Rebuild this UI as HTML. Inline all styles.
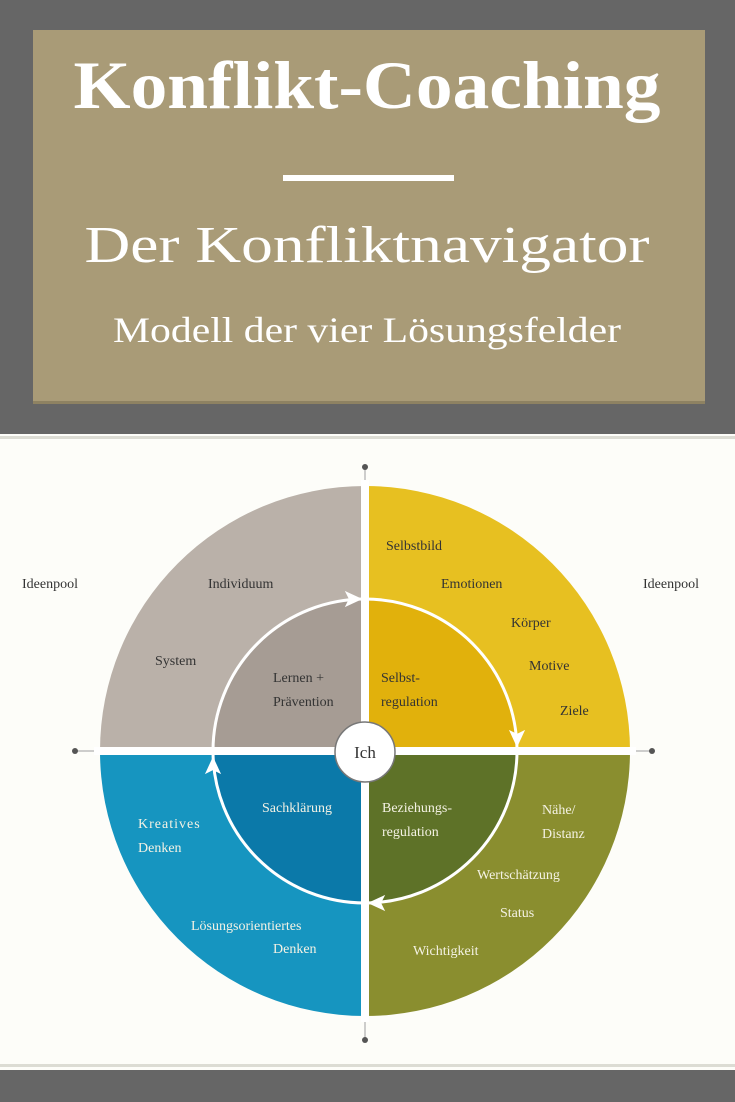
<!DOCTYPE html>
<html><head><meta charset="utf-8"><style>
html,body{margin:0;padding:0;background:#666;}
svg{display:block}
</style></head><body>
<svg width="735" height="1102" viewBox="0 0 735 1102" xmlns="http://www.w3.org/2000/svg" font-family="Liberation Serif, serif">
<rect x="0" y="0" width="735" height="1102" fill="#666666"/>
<rect x="33" y="30" width="672" height="373" fill="#a99b77"/>
<rect x="33" y="401" width="672" height="3" fill="#8e8262"/>
<text x="367" y="108" fill="#fff" font-size="68" font-weight="bold" text-anchor="middle" textLength="587" lengthAdjust="spacingAndGlyphs">Konflikt-Coaching</text>
<rect x="283" y="175" width="171" height="6" fill="#fff"/>
<text x="367" y="262" fill="#fff" font-size="52" text-anchor="middle" textLength="565" lengthAdjust="spacingAndGlyphs">Der Konfliktnavigator</text>
<text x="367" y="342" fill="#fff" font-size="36" text-anchor="middle" textLength="508" lengthAdjust="spacingAndGlyphs">Modell der vier Lösungsfelder</text>
<rect x="0" y="434" width="735" height="636" fill="#fdfdf9"/>
<rect x="0" y="436" width="735" height="3" fill="#dcdcd4"/>
<rect x="0" y="1064" width="735" height="3" fill="#dcdcd4"/>
<line x1="365" y1="467" x2="365" y2="1040" stroke="#bdbdbd" stroke-width="1.5"/>
<line x1="75" y1="751" x2="652" y2="751" stroke="#bdbdbd" stroke-width="1.5"/>
<circle cx="365" cy="467" r="3" fill="#555"/>
<circle cx="365" cy="1040" r="3" fill="#555"/>
<circle cx="75" cy="751" r="3" fill="#555"/>
<circle cx="652" cy="751" r="3" fill="#555"/>
<path d="M365,751 L365,486 A265,265 0 0 1 630,751 Z" fill="#e7c021"/>
<path d="M365,751 L630,751 A265,265 0 0 1 365,1016 Z" fill="#8a8e2f"/>
<path d="M365,751 L365,1016 A265,265 0 0 1 100,751 Z" fill="#1695c0"/>
<path d="M365,751 L100,751 A265,265 0 0 1 365,486 Z" fill="#bab1a9"/>
<path d="M365,751 L365,599 A152,152 0 0 1 517,751 Z" fill="#e1b10c"/>
<path d="M365,751 L517,751 A152,152 0 0 1 365,903 Z" fill="#5e7228"/>
<path d="M365,751 L365,903 A152,152 0 0 1 213,751 Z" fill="#0b79a9"/>
<path d="M365,751 L213,751 A152,152 0 0 1 365,599 Z" fill="#a69c94"/>
<circle cx="365" cy="751" r="152" fill="none" stroke="#fff" stroke-width="3"/>
<rect x="361" y="480" width="8" height="542" fill="#fff"/>
<rect x="94" y="747" width="542" height="8" fill="#fff"/>
<path d="M347,593 L360,599 L347,605 L350,599 Z" fill="#fff" stroke="#fff" stroke-width="2"/>
<path d="M511,732 L517,745 L523,732 L517,735 Z" fill="#fff" stroke="#fff" stroke-width="2"/>
<path d="M383,897 L370,903 L383,909 L380,903 Z" fill="#fff" stroke="#fff" stroke-width="2"/>
<path d="M207,772 L213,759 L219,772 L213,769 Z" fill="#fff" stroke="#fff" stroke-width="2"/>
<circle cx="365" cy="752" r="30" fill="#fff" stroke="#777" stroke-width="1.5"/>
<text x="365" y="758" font-size="17" fill="#333" text-anchor="middle">Ich</text>
<g font-size="14" fill="#333">
<text x="22" y="588">Ideenpool</text>
<text x="643" y="588">Ideenpool</text>
<text x="208" y="588">Individuum</text>
<text x="155" y="665">System</text>
<text x="273" y="682">Lernen +</text>
<text x="273" y="706">Prävention</text>
<text x="386" y="550">Selbstbild</text>
<text x="441" y="588">Emotionen</text>
<text x="511" y="627">Körper</text>
<text x="529" y="670">Motive</text>
<text x="560" y="715">Ziele</text>
<text x="381" y="682">Selbst-</text>
<text x="381" y="706">regulation</text>
</g>
<g font-size="14" fill="#f4f2e4">
<text x="262" y="812">Sachklärung</text>
<text x="382" y="812">Beziehungs-</text>
<text x="382" y="836">regulation</text>
<text x="138" y="828" letter-spacing="1">Kreatives</text>
<text x="138" y="852">Denken</text>
<text x="191" y="930">Lösungsorientiertes</text>
<text x="273" y="953">Denken</text>
<text x="542" y="814">Nähe/</text>
<text x="542" y="838">Distanz</text>
<text x="477" y="879">Wertschätzung</text>
<text x="500" y="917">Status</text>
<text x="413" y="955">Wichtigkeit</text>
</g>
</svg>
</body></html>
